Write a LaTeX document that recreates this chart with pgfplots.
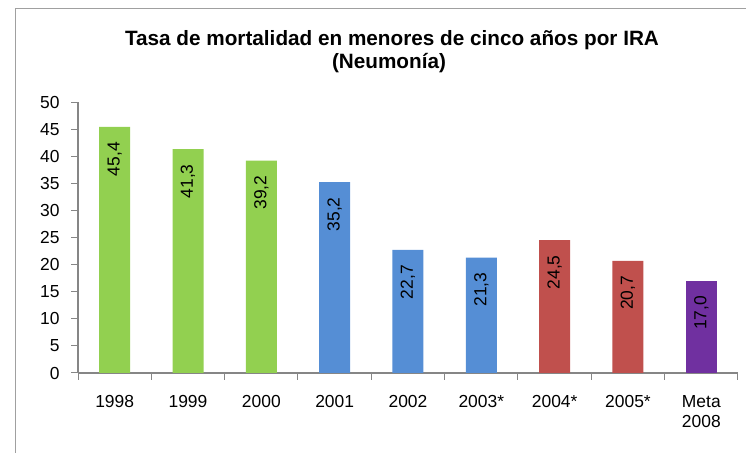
\documentclass[border=0pt]{standalone}
\usepackage{fontspec}
\setmainfont{Liberation Sans}
\usepackage{pgfplots}
\pgfplotsset{compat=1.18}
\definecolor{cgreen}{HTML}{92D050}
\definecolor{cblue}{HTML}{558ED5}
\definecolor{cred}{HTML}{C0504D}
\definecolor{cpurple}{HTML}{7030A0}
\definecolor{axgray}{HTML}{868686}
\definecolor{framegray}{HTML}{A0A0A0}
\begin{document}
\begin{tikzpicture}
\path[use as bounding box] (0bp,0bp) rectangle (746bp,453bp);
\draw[framegray, line width=1.5bp] (15.5bp,0bp) -- (15.5bp,444.5bp) -- (746bp,444.5bp);
\node[font=\fontsize{20.8}{24}\selectfont\bfseries, anchor=base] at (392bp,407bp) {Tasa de mortalidad en menores de cinco años por IRA};
\node[font=\fontsize{20.8}{24}\selectfont\bfseries, anchor=base] at (389bp,384bp) {(Neumonía)};
\begin{axis}[
  at={(78bp,80bp)}, anchor=south west,
  scale only axis, width=660bp, height=271bp,
  xmin=-0.5, xmax=8.5, ymin=0, ymax=50,
  axis x line*=bottom, axis y line*=left,
  axis line style={axgray, line width=1.2bp},
  tick align=outside,
  major tick length=7bp,
  tick style={axgray, line width=1bp},
  ytick={0,5,...,50},
  xtick={-0.5,0.5,...,8.5},
  xticklabels={},
  extra x ticks={0,1,2,3,4,5,6,7,8},
  extra x tick labels={1998,1999,2000,2001,2002,2003*,2004*,2005*,{Meta\\2008}},
  extra x tick style={major tick length=0pt},
  xticklabel style={font=\fontsize{17.5}{20}\selectfont, align=center, anchor=north, yshift=-19bp},
  yticklabel style={font=\fontsize{17.5}{20}\selectfont, xshift=-8bp},
  /pgf/number format/assume math mode=true,
  nodes near coords={\pgfmathprintnumber[fixed,fixed zerofill,precision=1,use comma]{\pgfplotspointmeta}},
  every node near coord/.append style={rotate=90, anchor=east, inner xsep=15bp, font=\fontsize{17.5}{20}\selectfont, text=black},
]
\addplot[ybar, bar width=31bp, bar shift=0pt, fill=cgreen, draw=none] coordinates {(0,45.4) (1,41.3) (2,39.2)};
\addplot[ybar, bar width=31bp, bar shift=0pt, fill=cblue, draw=none] coordinates {(3,35.2) (4,22.7) (5,21.3)};
\addplot[ybar, bar width=31bp, bar shift=0pt, fill=cred, draw=none] coordinates {(6,24.5) (7,20.7)};
\addplot[ybar, bar width=31bp, bar shift=0pt, fill=cpurple, draw=none] coordinates {(8,17.0)};
\end{axis}
\end{tikzpicture}
\end{document}
